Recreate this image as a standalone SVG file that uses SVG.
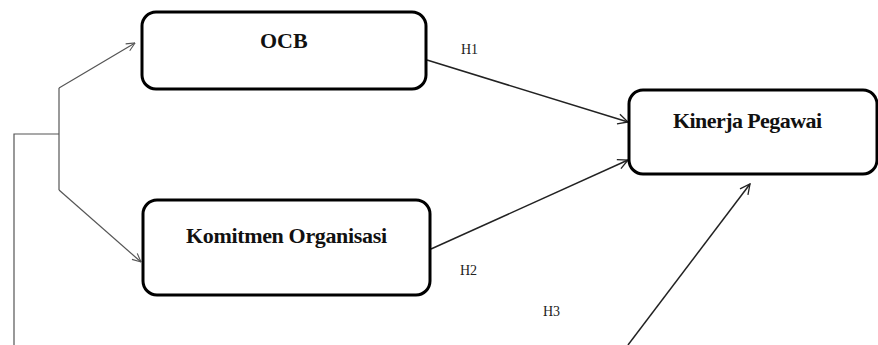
<svg xmlns="http://www.w3.org/2000/svg" width="878" height="345" viewBox="0 0 878 345">
<style>
.box{fill:#fff;stroke:#000;stroke-width:3}
.lbl{font-family:"Liberation Serif",serif;font-weight:bold;font-size:22px;fill:#111}
.h{font-family:"Liberation Serif",serif;font-size:14px;fill:#222}
.c{fill:none;stroke:#222;stroke-width:1.5}
.g{fill:none;stroke:#555;stroke-width:1.2}
</style>
<defs>
<marker id="ah" viewBox="0 0 12 12" refX="11" refY="6" markerWidth="12" markerHeight="12" markerUnits="userSpaceOnUse" orient="auto">
<path d="M1,1 L11,6 L1,11" fill="none" stroke="#222" stroke-width="1.3"/>
</marker>
<marker id="ag" viewBox="0 0 10 10" refX="9.5" refY="5" markerWidth="10" markerHeight="10" markerUnits="userSpaceOnUse" orient="auto">
<path d="M1,1 L9.5,5 L1,9" fill="none" stroke="#555" stroke-width="1.1"/>
</marker>
</defs>
<rect width="878" height="345" fill="#fff"/>
<g id="connectors">
<polyline class="g" points="14,345 14,134 59,134"/>
<polyline class="g" points="59,134 59,88"/>
<polyline class="g" points="59,134 59,190"/>
<line class="g" x1="59" y1="88" x2="135" y2="43" marker-end="url(#ag)"/>
<line class="g" x1="59" y1="190" x2="141" y2="262" marker-end="url(#ag)"/>
<line class="c" x1="427" y1="60" x2="628" y2="122" marker-end="url(#ah)"/>
<line class="c" x1="431" y1="249" x2="628" y2="160" marker-end="url(#ah)"/>
<line class="c" x1="628" y1="345" x2="750" y2="184" marker-end="url(#ah)"/>
<text class="h" x="461" y="54">H1</text>
<text class="h" x="460" y="275">H2</text>
<text class="h" x="543" y="316">H3</text>
</g>
<g id="ocb">
<rect class="box" x="142" y="12" width="284" height="77" rx="14"/>
<text class="lbl" x="260" y="48">OCB</text>
</g>
<g id="komitmen">
<rect class="box" x="143" y="200" width="287" height="95" rx="14"/>
<text class="lbl" x="186" y="243" textLength="201">Komitmen Organisasi</text>
</g>
<g id="kinerja">
<rect class="box" x="629" y="90" width="248" height="84" rx="14"/>
<text class="lbl" x="673" y="128" textLength="149">Kinerja Pegawai</text>
</g>
</svg>
